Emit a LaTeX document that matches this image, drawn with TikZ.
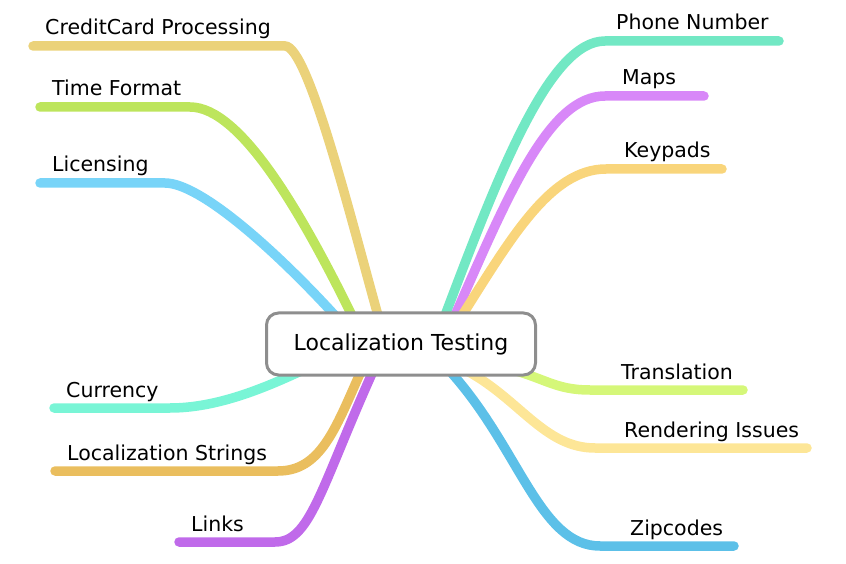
\documentclass[tikz,border=0pt]{standalone}
\usepackage{fontspec}
\setmainfont{DejaVu Sans}
\usepackage{tikz}
\usetikzlibrary{backgrounds}

\definecolor{rootGray}{HTML}{8E8E8E}
\definecolor{creditCol}{HTML}{EBD27A}
\definecolor{timeCol}{HTML}{BDE55C}
\definecolor{licenseCol}{HTML}{78D4F8}
\definecolor{currencyCol}{HTML}{79F5D6}
\definecolor{stringsCol}{HTML}{EABE5E}
\definecolor{linksCol}{HTML}{C06AEA}
\definecolor{phoneCol}{HTML}{72E8C4}
\definecolor{mapsCol}{HTML}{D888F8}
\definecolor{keypadsCol}{HTML}{F9D57B}
\definecolor{translationCol}{HTML}{D5F779}
\definecolor{renderingCol}{HTML}{FDE697}
\definecolor{zipCol}{HTML}{5CC0E8}

\begin{document}
\begin{tikzpicture}[x=1pt, y=1pt,
    root/.style={draw=rootGray, line width=3pt, rounded corners=12pt, fill=white,
      minimum width=269pt, minimum height=62pt, inner sep=0pt,
      font=\fontsize{22}{26}\selectfont},
    leaf/.style={anchor=base west, inner sep=0pt, font=\fontsize{20.5}{24}\selectfont},
    branch/.style={line width=9.5pt, line cap=round}]

      \useasboundingbox (0,0) rectangle (846,563);

      \node[root] (root) at (401,219) {Localization Testing};

      % labels on the left
      \node[leaf] (credit) at (45,528) {CreditCard Processing};
      \node[leaf] (time) at (52,467) {Time Format};
      \node[leaf] (license) at (52,391) {Licensing};
      \node[leaf] (currency) at (66,166) {Currency};
      \node[leaf] (strings) at (67,103) {Localization Strings};
      \node[leaf] (links) at (191,32) {Links};

      % labels on the right
      \node[leaf] (phone) at (616,533) {Phone Number};
      \node[leaf] (maps) at (622,478) {Maps};
      \node[leaf] (keypads) at (624,405) {Keypads};
      \node[leaf] (translation) at (621,184) {Translation};
      \node[leaf] (rendering) at (624,126) {Rendering Issues};
      \node[leaf] (zip) at (630,28) {Zipcodes};

      \begin{scope}[on background layer]
      \draw[branch, creditCol] ([xshift=-23pt,yshift=-4pt]root.north)
        .. controls (350,348) and (308,517) .. (285,517) -- ([xshift=-12pt,yshift=-11pt]credit.base west);
      \draw[branch, timeCol] ([xshift=-49pt,yshift=-4pt]root.north)
        .. controls (300,353) and (240,456) .. (190,456) -- ([xshift=-12pt,yshift=-11pt]time.base west);
      \draw[branch, licenseCol] ([xshift=-66pt,yshift=-4pt]root.north)
        .. controls (275,313) and (200,380) .. (165,380) -- ([xshift=-12pt,yshift=-11pt]license.base west);
      \draw[branch, currencyCol] ([xshift=-101pt,yshift=5pt]root.south)
        .. controls (260,173) and (215,155) .. (170,155) -- ([xshift=-12pt,yshift=-11pt]currency.base west);
      \draw[branch, stringsCol] ([xshift=-41pt,yshift=3pt]root.south)
        .. controls (335,133) and (320,92) .. (278,92) -- ([xshift=-12pt,yshift=-11pt]strings.base west);
      \draw[branch, linksCol] ([xshift=-29pt,yshift=3pt]root.south)
        .. controls (320,73) and (310,21) .. (275,21) -- ([xshift=-12pt,yshift=-11pt]links.base west);

      \draw[branch, phoneCol] ([xshift=44pt,yshift=-4pt]root.north)
        .. controls (500,393) and (550,522) .. (605,522) -- ([xshift=163pt,yshift=-11pt]phone.base west);
      \draw[branch, mapsCol] ([xshift=54pt,yshift=-4pt]root.north)
        .. controls (510,373) and (550,467) .. (605,467) -- ([xshift=82pt,yshift=-11pt]maps.base west);
      \draw[branch, keypadsCol] ([xshift=61pt,yshift=-4pt]root.north)
        .. controls (510,323) and (550,394) .. (606,394) -- ([xshift=98pt,yshift=-11pt]keypads.base west);
      \draw[branch, translationCol] ([xshift=106pt,yshift=8pt]root.south)
        .. controls (545,185) and (555,173) .. (590,173) -- ([xshift=122pt,yshift=-11pt]translation.base west);
      \draw[branch, renderingCol] ([xshift=67pt,yshift=5pt]root.south)
        .. controls (520,163) and (545,115) .. (595,115) -- ([xshift=183pt,yshift=-11pt]rendering.base west);
      \draw[branch, zipCol] ([xshift=51pt,yshift=3pt]root.south)
        .. controls (520,113) and (540,17) .. (600,17) -- ([xshift=104pt,yshift=-11pt]zip.base west);
      \end{scope}
\end{tikzpicture}
\end{document}
